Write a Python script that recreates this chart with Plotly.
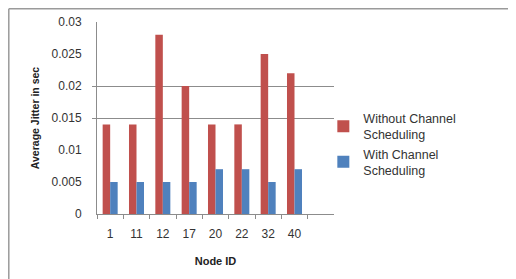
import plotly.graph_objects as go

nodes = ["1", "11", "12", "17", "20", "22", "32", "40"]
without_sched = [0.014, 0.014, 0.028, 0.020, 0.014, 0.014, 0.025, 0.022]
with_sched = [0.005, 0.005, 0.005, 0.005, 0.007, 0.007, 0.005, 0.007]
y_ticks = [0, 0.005, 0.01, 0.015, 0.02, 0.025, 0.03]
y_ticktext = ["0", "0.005", "0.01", "0.015", "0.02", "0.025", "0.03"]
visible_grid = [0.015, 0.02]

FONT = "Liberation Sans"
OFF = 8  # page body margin
W, H = 516 - OFF, 279 - OFF
L, T = 97 - OFF, 22 - OFF
R = W - (334 - OFF)
B = H - (214 - OFF)

fig = go.Figure()
fig.add_trace(go.Bar(x=nodes, y=without_sched, name="Without Channel<br>Scheduling",
                     legendgroup="a",
                     marker=dict(color="#C0504D", line=dict(width=0))))
fig.add_trace(go.Bar(x=nodes, y=with_sched, name="With Channel<br>Scheduling",
                     legendgroup="b",
                     marker=dict(color="#4F81BD", line=dict(width=0))))

pw, ph = W - L - R, H - T - B
bx0 = (0.8 - L) / pw
by1 = (H - B - 0.8) / ph

fig.update_layout(
    width=W, height=H,
    margin=dict(l=L, r=R, t=T, b=B, autoexpand=False),
    paper_bgcolor="white", plot_bgcolor="white",
    bargap=0.43, bargroupgap=0,
    font=dict(family=FONT, size=11, color="#333333"),
    xaxis=dict(
        type="category", categoryorder="array", categoryarray=nodes,
        range=[-0.5, len(nodes) + 0.5],
        tickson="boundaries", ticks="outside", ticklen=4, tickcolor="#8c8c8c",
        showline=True, linecolor="#8c8c8c", linewidth=1,
        showgrid=False, zeroline=False,
        tickfont=dict(size=12, color="#333333"),
        ticklabelstandoff=9,
        title=dict(text="<b>Node ID</b>", font=dict(size=11, color="#222222"), standoff=16),
    ),
    yaxis=dict(
        range=[0, 0.03], tickmode="array", tickvals=y_ticks, ticktext=y_ticktext,
        showline=True, linecolor="#8c8c8c", linewidth=1,
        showgrid=False, zeroline=False, ticks="",
        tickfont=dict(size=12, color="#333333"),
        ticklabelstandoff=12,
        minor=dict(tickmode="array", tickvals=visible_grid, showgrid=True,
                   gridcolor="#8c8c8c", gridwidth=1, ticks="outside", ticklen=4,
                   tickcolor="#8c8c8c"),
        title=dict(text="<b>Average Jitter in sec</b>", font=dict(size=10.5, color="#222222"),
                   standoff=9),
    ),
    legend=dict(x=0.955, y=0.575, xanchor="left", yanchor="top",
                font=dict(size=12.5, color="#333333"),
                bgcolor="rgba(0,0,0,0)", tracegroupgap=10, traceorder="normal"),
    showlegend=True,
    shapes=[
        dict(type="line", xref="paper", yref="paper", x0=bx0, x1=bx0, y0=-2, y1=by1,
             line=dict(color="#9a9a9a", width=1.5)),
        dict(type="line", xref="paper", yref="paper", x0=bx0, x1=3, y0=by1, y1=by1,
             line=dict(color="#9a9a9a", width=1.5)),
    ],
)

fig.write_html("out.html")
